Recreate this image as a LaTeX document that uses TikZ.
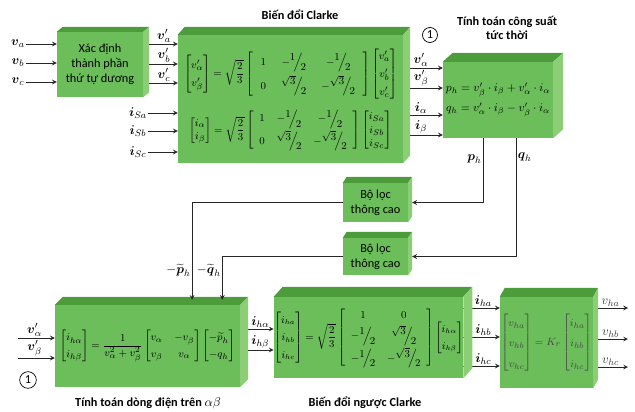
\documentclass[tikz,border=0pt]{standalone}
\usepackage[no-math]{fontspec}
\setmainfont{Carlito}
\usepackage{amsmath}
\usetikzlibrary{calc,arrows}
\definecolor{xanhla}{RGB}{108,190,90}
\definecolor{xanhtoi}{RGB}{76,156,60}
\definecolor{xanhsang}{RGB}{140,206,118}
\tikzset{
	khoi/.style={fill=xanhla,inner sep=0pt,align=center,font=\fontsize{10.5}{13}\selectfont},
	congthuc/.style={font=\fontsize{9.5}{11.5}\selectfont},
	mattren/.style={fill=xanhtoi},
	matben/.style={fill=xanhsang},
	muiten/.style={->,line width=0.8pt,draw=black!85},
	nhan/.style={font=\fontsize{11}{13}\selectfont,inner sep=1pt},
	tieude/.style={font=\fontsize{10.5}{12.5}\selectfont\bfseries,align=center}
}
%Phân số nghiêng.
\newcommand{\pso}[2]{\raisebox{0.8ex}{$#1$}\!\Big/\!\raisebox{-1ex}{$#2$}}
%Mặt trên và mặt bên của khối.
\newcommand{\matkhoi}[3]{%
	\fill[mattren] (#1.north west) -- ++(#2,-#3) -- ($(#1.north east)+(#2,-#3)$) -- (#1.north east) -- cycle;
	\fill[matben] (#1.north east) -- ++(#2,-#3) -- ($(#1.south east)+(#2,-#3)$) -- (#1.south east) -- cycle;}
\begin{document}
\begin{tikzpicture}[x=0.3mm,y=-0.3mm,line join=round,>=stealth]
	%Khung hình.
	\useasboundingbox (0,0) rectangle (635,412);
	%Các khối.
	\node[khoi,minimum width=25.8mm,minimum height=19.5mm] (xd) at (100,64.5) {Xác định\\thành phần\\thứ tự dương};
	\node[khoi,congthuc,minimum width=67.5mm,minimum height=38.4mm] (clarke) at (290.5,99) {\arraycolsep=6.5pt\def\arraystretch{1.35}%
		$\begin{bmatrix} v'_{\alpha}\\ v'_{\beta}\end{bmatrix}=\sqrt{\dfrac{2}{3}}\left[\begin{array}{ccc} 1 & -\pso{1}{2} & -\pso{1}{2}\\[4pt] 0 & \pso{\sqrt{3}}{2} & -\pso{\sqrt{3}}{2}\end{array}\right]\begin{bmatrix} v'_a\\ v'_b\\ v'_c\end{bmatrix}$\\[6pt]
		$\begin{bmatrix} i_{\alpha}\\ i_{\beta}\end{bmatrix}=\sqrt{\dfrac{2}{3}}\left[\begin{array}{ccc} 1 & -\pso{1}{2} & -\pso{1}{2}\\[4pt] 0 & \pso{\sqrt{3}}{2} & -\pso{\sqrt{3}}{2}\end{array}\right]\begin{bmatrix} i_{Sa}\\ i_{Sb}\\ i_{Sc}\end{bmatrix}$};
	\node[khoi,font=\fontsize{10}{17}\selectfont,minimum width=33mm,minimum height=22.8mm] (congsuat) at (498,100) {$p_h=v'_{\beta}\cdot i_{\beta}+v'_{\alpha}\cdot i_{\alpha}$\\$q_h=v'_{\alpha}\cdot i_{\beta}-v'_{\beta}\cdot i_{\alpha}$};
	\node[khoi,minimum width=19.5mm,minimum height=11.7mm] (loc1) at (375.5,202.5) {Bộ lọc\\thông cao};
	\node[khoi,minimum width=19.5mm,minimum height=11.1mm] (loc2) at (375.5,256.5) {Bộ lọc\\thông cao};
	\node[khoi,font=\fontsize{9.5}{11}\selectfont,minimum width=55.5mm,minimum height=24.6mm] (dongdien) at (147.5,346) {\def\arraystretch{1.3}%
		$\begin{bmatrix} i_{h\alpha}\\ i_{h\beta}\end{bmatrix}=\dfrac{1}{v_{\alpha}^2+v_{\beta}^2}\begin{bmatrix} v_{\alpha} & -v_{\beta}\\ v_{\beta} & v_{\alpha}\end{bmatrix}\begin{bmatrix} -\widetilde{p}_h\\ -q_h\end{bmatrix}$};
	\node[khoi,font=\fontsize{9}{11}\selectfont,minimum width=53.7mm,minimum height=24.3mm] (nguoc) at (368.5,337.5) {\arraycolsep=5pt\def\arraystretch{1.35}%
		$\begin{bmatrix} i_{ha}\\ i_{hb}\\ i_{hc}\end{bmatrix}=\sqrt{\dfrac{2}{3}}\left[\begin{array}{cc} 1 & 0\\[1pt] -\pso{1}{2} & \pso{\sqrt{3}}{2}\\[3pt] -\pso{1}{2} & -\pso{\sqrt{3}}{2}\end{array}\right]\begin{bmatrix} i_{h\alpha}\\ i_{h\beta}\end{bmatrix}$};
	\node[khoi,font=\fontsize{9.5}{11}\selectfont,minimum width=27.9mm,minimum height=27.3mm,text=black!72] (kr) at (546.5,342.5) {\def\arraystretch{1.6}%
		$\begin{bmatrix} v_{ha}\\ v_{hb}\\ v_{hc}\end{bmatrix}=K_r\begin{bmatrix} i_{ha}\\ i_{hb}\\ i_{hc}\end{bmatrix}$};
	%Tiêu đề.
	\node[tieude] (tclarke) at (300,15) {Biến đổi Clarke};
	\node[tieude] (tcs) at (507,28) {Tính toán công suất\\tức thời};
	\node[tieude] (tdd) at (148,403) {Tính toán dòng điện trên $\alpha\beta$};
	\node[tieude] (tng) at (365,403) {Biến đổi ngược Clarke};
	\node[circle,draw,line width=0.6pt,inner sep=1.5pt,font=\fontsize{10.5}{12}\selectfont] (so1) at (430,35) {1};
	\node[circle,draw,line width=0.6pt,inner sep=2pt,font=\fontsize{10.5}{12}\selectfont] (so2) at (28,380) {1};
	%Đầu vào.
	\foreach \t/\y in {a/44,b/63,c/82}{
		\node[nhan] (v\t) at (18,\y) {$\boldsymbol{v}_{\t}$};
		\draw[muiten] (v\t) -- (v\t -| xd.west);
	}
	\foreach \t/\y in {a/113,b/131,c/152}{
		\node[nhan] (iS\t) at (138,\y) {$\boldsymbol{i}_{S\t}$};
		\draw[muiten] (iS\t) -- (iS\t -| clarke.west);
	}
	%Các mũi tên ngang.
	\foreach \t/\y in {a/44,b/64,c/83}
		\draw[muiten] (xd.east |- 0,\y) -- (clarke.west |- 0,\y) node[nhan,pos=0.6,above] (lv\t) {$\boldsymbol{v}'_{\t}$};
	\foreach \n/\y/\l in {1/68/{\boldsymbol{v}'_{\alpha}},2/88/{\boldsymbol{v}'_{\beta}},3/115/{\boldsymbol{i}_{\alpha}},4/135/{\boldsymbol{i}_{\beta}}}
		\draw[muiten] (clarke.east |- 0,\y) -- (congsuat.west |- 0,\y) node[nhan,pos=0.45,above] (lcs\n) {$\l$};
	\foreach \n/\y/\l in {1/338/{\boldsymbol{v}'_{\alpha}},2/358/{\boldsymbol{v}'_{\beta}}}{
		\coordinate (dv\n) at (18,\y);
		\draw[muiten] (dv\n) -- (dv\n -| dongdien.west) node[nhan,pos=0.45,above] (ldv\n) {$\l$};
	}
	\foreach \n/\y/\l in {1/329/\alpha,2/350/\beta}
		\draw[muiten] (dongdien.east |- 0,\y) -- (nguoc.west |- 0,\y) node[nhan,pos=0.6,above] (lih\n) {$\boldsymbol{i}_{h\l}$};
	\foreach \t/\y in {a/308,b/337,c/366}
		\draw[muiten] (nguoc.east |- 0,\y) -- (kr.west |- 0,\y) node[nhan,pos=0.55,above] (li\t) {$\boldsymbol{i}_{h\t}$};
	\foreach \t/\y in {a/308,b/339,c/367}{
		\coordinate (r\t) at (628,\y);
		\draw[muiten] (kr.east |- r\t) -- (r\t) node[nhan,pos=0.5,above,text=black!75] (lr\t) {$v_{h\t}$};
	}
	%Vẽ mặt khối.
	\matkhoi{xd}{6}{5}
	\matkhoi{clarke}{7}{8}
	\matkhoi{congsuat}{10}{9}
	\matkhoi{loc1}{4}{6}
	\matkhoi{loc2}{4}{6}
	\matkhoi{dongdien}{8}{8}
	\matkhoi{nguoc}{9}{10}
	\matkhoi{kr}{5}{9}
	%Nhánh lọc.
	\coordinate (ph) at ($(congsuat.south west)!0.364!(congsuat.south east)$);
	\coordinate (qh) at ($(congsuat.south west)!0.664!(congsuat.south east)$);
	\coordinate (pt) at ($(dongdien.north west)!0.74!(dongdien.north east)$);
	\coordinate (qt) at ($(dongdien.north west)!0.903!(dongdien.north east)$);
	\draw[muiten] (ph) |- ([xshift=1.2mm]loc1.east) node[nhan,pos=0.16,left] (lph) {$\boldsymbol{p}_h$};
	\draw[muiten] (qh) |- ([xshift=1.2mm]loc2.east) node[nhan,pos=0.08,right] (lqh) {$\boldsymbol{q}_h$};
	\draw[muiten] (loc1.west) -| ([yshift=1.5mm]pt) node[nhan,pos=0.85,left] (lpt) {$-\widetilde{\boldsymbol{p}}_h$};
	\draw[muiten] (loc2.west) -| ([yshift=1.5mm]qt) node[nhan,pos=0.66,left] (lqt) {$-\widetilde{\boldsymbol{q}}_h$};
\end{tikzpicture}
\end{document}
